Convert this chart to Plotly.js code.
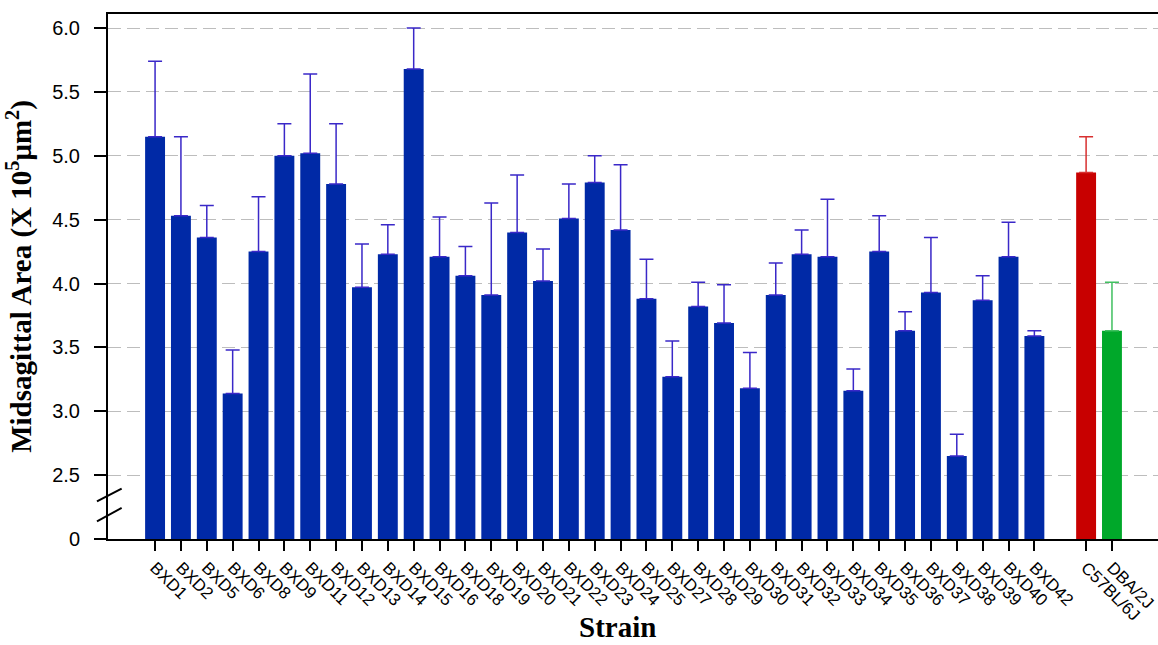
<!DOCTYPE html>
<html>
<head>
<meta charset="utf-8">
<script src="https://cdn.plot.ly/plotly-3.0.1.min.js"></script>
<style>html,body{margin:0;padding:0;background:#fff;}#chart{width:1158px;height:645px;}</style>
</head>
<body>
<div id="chart"></div>
<script>
// BXD recombinant inbred strains
const strains = ["BXD1","BXD2","BXD5","BXD6","BXD8","BXD9","BXD11","BXD12","BXD13","BXD14",
  "BXD15","BXD16","BXD18","BXD19","BXD20","BXD21","BXD22","BXD23","BXD24","BXD25",
  "BXD27","BXD28","BXD29","BXD30","BXD31","BXD32","BXD33","BXD34","BXD35","BXD36",
  "BXD37","BXD38","BXD39","BXD40","BXD42"];
const strainMeans = [5.15,4.53,4.36,3.14,4.25,5.00,5.02,4.78,3.97,4.23,
  5.68,4.21,4.06,3.91,4.40,4.02,4.51,4.79,4.42,3.88,
  3.27,3.82,3.69,3.18,3.91,4.23,4.21,3.16,4.25,3.63,
  3.93,2.65,3.87,4.21,3.59];
const strainErr = [0.59,0.62,0.25,0.34,0.43,0.25,0.62,0.47,0.34,0.23,
  0.32,0.31,0.23,0.72,0.45,0.25,0.27,0.21,0.51,0.31,
  0.28,0.19,0.30,0.28,0.25,0.19,0.45,0.17,0.28,0.15,
  0.43,0.17,0.19,0.27,0.04];
// parental strains
const c57Name = ["C57BL/6J"], c57Mean = [4.87], c57Err = [0.28];
const dbaName = ["DBA/2J"], dbaMean = [3.63], dbaErr = [0.38];
// y axis (broken: "0" shown at the break baseline)
const yTickVals = [2.0,2.5,3.0,3.5,4.0,4.5,5.0,5.5,6.0];
const yTickText = ["0","2.5","3.0","3.5","4.0","4.5","5.0","5.5","6.0"];
const axisBase = 2.0;
const xTitle = "Strain";
const yTitle = "Midsagittal Area (X 10<sup>5</sup>μm<sup>2</sup>)";

const spacer = " ";
const catOrder = strains.concat([spacer], c57Name, dbaName);
const tickCats = strains.concat(c57Name, dbaName);

function barTrace(x, y, err, color, errColor) {
  return {
    type: "bar", x: x, base: axisBase,
    y: y.map(v => v - axisBase),
    marker: {color: color, line: {width: 0}},
    width: 0.77,
    error_y: {type: "data", array: err, symmetric: false, arrayminus: err.map(() => 0),
              color: errColor, thickness: 1.5, width: 7},
    hoverinfo: "x+y", showlegend: false
  };
}

const data = [
  barTrace(strains, strainMeans, strainErr, "#0029a6", "#3a28c8"),
  barTrace(c57Name, c57Mean, c57Err, "#c80000", "#d83030"),
  barTrace(dbaName, dbaMean, dbaErr, "#00a82a", "#40c060")
];

const serif = "Liberation Serif, Times New Roman, serif";
const sans = "Liberation Sans, Arial, sans-serif";

const layout = {
  width: 1158, height: 645,
  margin: {l: 108, r: 0, t: 14, b: 106},
  paper_bgcolor: "#fff", plot_bgcolor: "#fff",
  barmode: "overlay",
  font: {family: sans, color: "#000"},
  xaxis: {
    type: "category", categoryorder: "array", categoryarray: catOrder,
    range: [-1.82, 38.78],
    tickmode: "array", tickvals: tickCats, ticktext: tickCats,
    tickangle: 45, ticks: "outside", ticklen: 10, tickwidth: 2, tickcolor: "#000",
    tickfont: {size: 17, family: sans, color: "#000"},
    showline: true, linecolor: "#000", linewidth: 2, mirror: true,
    showgrid: false, zeroline: false
  },
  yaxis: {
    range: [2.0, 6.11],
    tickmode: "array", tickvals: yTickVals, ticktext: yTickText,
    ticks: "outside", ticklen: 12, tickwidth: 2, tickcolor: "#000",
    ticklabelstandoff: 10,
    tickfont: {size: 20, family: sans, color: "#000"},
    showline: true, linecolor: "#000", linewidth: 2,
    showgrid: true, gridcolor: "#bdbdbd", gridwidth: 1, griddash: "13px,6px",
    zeroline: false,
    title: {text: "<b>" + yTitle + "</b>",
            font: {family: serif, size: 29, color: "#000"}, standoff: 12}
  },
  annotations: [
    {text: "<b>" + xTitle + "</b>", xref: "paper", yref: "paper", x: 0.4848, y: -0.1676,
     xanchor: "center", yanchor: "middle", showarrow: false,
     font: {family: serif, size: 29, color: "#000"}}
  ],
  shapes: [
    {type: "line", xref: "paper", yref: "y", x0: -0.0105, x1: 0.013, y0: 2.294, y1: 2.394,
     line: {color: "#000", width: 2}},
    {type: "line", xref: "paper", yref: "y", x0: -0.0105, x1: 0.013, y0: 2.138, y1: 2.243,
     line: {color: "#000", width: 2}}
  ]
};

Plotly.newPlot("chart", data, layout, {displayModeBar: false, staticPlot: true});
</script>
</body>
</html>
